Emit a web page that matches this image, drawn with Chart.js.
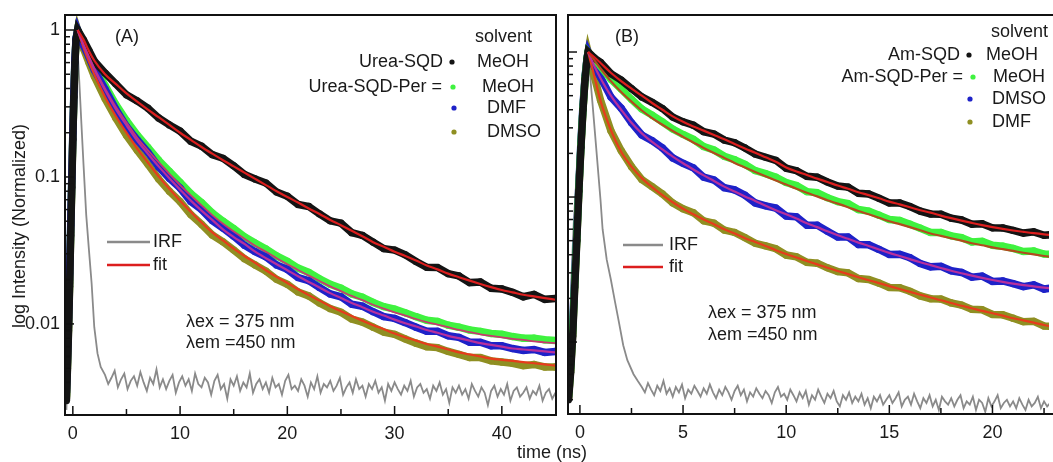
<!DOCTYPE html>
<html>
<head>
<meta charset="utf-8">
<script src="https://cdn.jsdelivr.net/npm/chart.js@4.4.1/dist/chart.umd.min.js"></script>
<style>
  html, body { margin: 0; padding: 0; background: #fff; overflow: hidden; }
  .wrap { position: relative; width: 1053px; height: 462px; }
  canvas { position: absolute; left: 0; top: 0; }
</style>
</head>
<body>
<div class="wrap">
  <canvas id="chartA" width="1053" height="462"></canvas>
  <canvas id="chartB" width="1053" height="462"></canvas>
</div>
<script>
// ---------- panel A : Urea-SQD ----------
const tRiseA = [-0.6, -0.5, -0.4, -0.3, -0.2, -0.1, 0, 0.1, 0.2, 0.3];
const tA = [0.45, 1, 1.5, 2, 3, 4, 5, 6, 7, 8, 9, 10, 11, 12, 13, 14, 15, 16, 17, 18, 19, 20,
  21, 22, 23, 24, 25, 26, 27, 28, 29, 30, 31, 32, 33, 34, 35, 36, 37, 38, 39, 40, 41, 42, 43, 44, 45];

const blackRiseA = [0.0030, 0.0050, 0.0090, 0.018, 0.040, 0.085, 0.18, 0.35, 0.60, 0.86];
const greenRiseA = [0.0032, 0.0055, 0.010, 0.020, 0.044, 0.092, 0.19, 0.37, 0.62, 0.87];
const blueRiseA  = [0.0034, 0.0058, 0.011, 0.022, 0.047, 0.098, 0.20, 0.38, 0.64, 0.88];
const oliveRiseA = [0.0031, 0.0052, 0.0095, 0.019, 0.042, 0.088, 0.185, 0.36, 0.61, 0.86];

const blackDataA = [1.0, 0.855, 0.725, 0.615, 0.51, 0.43, 0.362, 0.329, 0.294, 0.252, 0.226, 0.205,
  0.175, 0.162, 0.142, 0.134, 0.119, 0.104, 0.097, 0.091, 0.079, 0.074,
  0.065, 0.063, 0.056, 0.0503, 0.0485, 0.0418, 0.040, 0.036, 0.0325, 0.0318,
  0.0295, 0.0266, 0.0243, 0.0242, 0.022, 0.0212, 0.0191, 0.0193, 0.0175, 0.0173,
  0.0164, 0.0153, 0.0159, 0.0147, 0.0149];
const greenDataA = [1.0, 0.82, 0.69, 0.57, 0.42, 0.312, 0.242, 0.193, 0.159, 0.130, 0.109, 0.092,
  0.077, 0.067, 0.057, 0.050, 0.0445, 0.0392, 0.0355, 0.0324, 0.0290, 0.0267,
  0.0240, 0.0224, 0.0203, 0.0186, 0.0175, 0.0160, 0.0152, 0.0140, 0.0131, 0.0126,
  0.0119, 0.0112, 0.0106, 0.0104, 0.0098, 0.0095, 0.0091, 0.0089, 0.0086, 0.0085,
  0.0082, 0.0080, 0.0080, 0.0078, 0.0077];
const blueDataA = [1.0, 0.785, 0.655, 0.535, 0.396, 0.29, 0.221, 0.179, 0.147, 0.117, 0.098, 0.084,
  0.068, 0.060, 0.0505, 0.0449, 0.0395, 0.0343, 0.031, 0.0286, 0.0252, 0.0235,
  0.0207, 0.0197, 0.0177, 0.0160, 0.0153, 0.0136, 0.0132, 0.0121, 0.0112, 0.0109,
  0.0102, 0.0095, 0.0089, 0.0089, 0.0083, 0.0081, 0.0075, 0.0075, 0.0071, 0.0071,
  0.0068, 0.0066, 0.0067, 0.0064, 0.0065];
const oliveDataA = [1.0, 0.745, 0.60, 0.485, 0.342, 0.252, 0.192, 0.152, 0.122, 0.097, 0.080, 0.068,
  0.0555, 0.0476, 0.0403, 0.0362, 0.0318, 0.0278, 0.0252, 0.0229, 0.0201, 0.0186,
  0.0165, 0.0155, 0.0139, 0.0127, 0.0120, 0.0108, 0.0103, 0.0095, 0.0088, 0.0085,
  0.0079, 0.0074, 0.0070, 0.0069, 0.0065, 0.0062, 0.0059, 0.0059, 0.0056, 0.0055,
  0.0054, 0.0052, 0.0053, 0.0051, 0.0051];

const blackFitA = [1.0, 0.86, 0.72, 0.62, 0.50, 0.43, 0.37, 0.325, 0.287, 0.255, 0.226, 0.200,
  0.179, 0.160, 0.144, 0.130, 0.118, 0.107, 0.097, 0.088, 0.080, 0.073,
  0.067, 0.061, 0.056, 0.051, 0.047, 0.043, 0.0395, 0.036, 0.0335, 0.031,
  0.029, 0.027, 0.025, 0.0235, 0.022, 0.0208, 0.0197, 0.0187, 0.0178, 0.0170,
  0.0164, 0.0158, 0.0154, 0.0150, 0.0146];
const greenFitA = [1.0, 0.80, 0.66, 0.55, 0.40, 0.30, 0.235, 0.185, 0.152, 0.126, 0.105, 0.088,
  0.075, 0.064, 0.055, 0.048, 0.0425, 0.038, 0.034, 0.031, 0.028, 0.0255,
  0.0233, 0.0213, 0.0196, 0.0180, 0.0167, 0.0155, 0.0145, 0.0135, 0.0127, 0.0120,
  0.0114, 0.0108, 0.0103, 0.0099, 0.0095, 0.0091, 0.0088, 0.0085, 0.0083, 0.0081,
  0.0079, 0.0078, 0.0076, 0.0075, 0.0074];
const blueFitA = [1.0, 0.79, 0.65, 0.54, 0.39, 0.29, 0.225, 0.177, 0.144, 0.118, 0.098, 0.082,
  0.069, 0.059, 0.051, 0.044, 0.039, 0.035, 0.031, 0.028, 0.0255, 0.0232,
  0.0211, 0.0193, 0.0177, 0.0162, 0.0150, 0.0139, 0.0130, 0.0121, 0.0114, 0.0107,
  0.0101, 0.0096, 0.0091, 0.0087, 0.0083, 0.0080, 0.0077, 0.0074, 0.0072, 0.0070,
  0.0068, 0.0067, 0.0066, 0.0065, 0.0064];
const oliveFitA = [1.0, 0.76, 0.61, 0.50, 0.35, 0.26, 0.20, 0.156, 0.125, 0.101, 0.083, 0.069,
  0.058, 0.049, 0.042, 0.037, 0.0325, 0.029, 0.026, 0.0232, 0.0209, 0.0190,
  0.0172, 0.0157, 0.0144, 0.0132, 0.0122, 0.0113, 0.0105, 0.0098, 0.0092, 0.0086,
  0.0081, 0.0077, 0.0073, 0.0070, 0.0067, 0.0064, 0.0062, 0.0060, 0.0058, 0.0057,
  0.0056, 0.0055, 0.0054, 0.0053, 0.0052];

const tIrfA = [-0.6, -0.4, -0.2, 0, 0.2, 0.35, 0.6, 0.8, 1.0, 1.25, 1.5, 1.75, 2.0, 2.3, 2.6,
  3.0, 3.3, 3.6, 3.9, 4.2, 4.5, 4.8, 5.1, 5.4, 5.7,
  6.0, 6.3, 6.6, 6.9, 7.2, 7.5, 7.8, 8.1, 8.4, 8.7,
  9.0, 9.3, 9.6, 9.9, 10.2, 10.5, 10.8, 11.1, 11.4, 11.7,
  12.0, 12.3, 12.6, 12.9, 13.2, 13.5, 13.8, 14.1, 14.4, 14.7,
  15.0, 15.3, 15.6, 15.9, 16.2, 16.5, 16.8, 17.1, 17.4, 17.7,
  18.0, 18.3, 18.6, 18.9, 19.2, 19.5, 19.8, 20.1, 20.4, 20.7,
  21.0, 21.3, 21.6, 21.9, 22.2, 22.5, 22.8, 23.1, 23.4, 23.7,
  24.0, 24.3, 24.6, 24.9, 25.2, 25.5, 25.8, 26.1, 26.4, 26.7,
  27.0, 27.3, 27.6, 27.9, 28.2, 28.5, 28.8, 29.1, 29.4, 29.7,
  30.0, 30.3, 30.6, 30.9, 31.2, 31.5, 31.8, 32.1, 32.4, 32.7,
  33.0, 33.3, 33.6, 33.9, 34.2, 34.5, 34.8, 35.1, 35.4, 35.7,
  36.0, 36.3, 36.6, 36.9, 37.2, 37.5, 37.8, 38.1, 38.4, 38.7,
  39.0, 39.3, 39.6, 39.9, 40.2, 40.5, 40.8, 41.1, 41.4, 41.7,
  42.0, 42.3, 42.6, 42.9, 43.2, 43.5, 43.8, 44.1, 44.4, 44.7, 45.0];
const irfA = [0.0026, 0.008, 0.05, 0.25, 0.7, 1.0, 0.45, 0.23, 0.12, 0.055, 0.032, 0.019, 0.0095, 0.0063, 0.0051,
  0.0045, 0.0039, 0.0043, 0.0048, 0.0037, 0.0042, 0.0046, 0.0036, 0.0041, 0.0044,
  0.0038, 0.0047, 0.0040, 0.0035, 0.0043, 0.0039, 0.0049, 0.0037, 0.0042, 0.0036,
  0.0041, 0.0045, 0.0034, 0.0040, 0.0044, 0.0038, 0.0042, 0.0035, 0.0046, 0.0039,
  0.0037, 0.0043, 0.0040, 0.0033, 0.0041, 0.0045, 0.0036, 0.0039, 0.0031, 0.0042,
  0.0038, 0.0044, 0.0035, 0.0040, 0.0037, 0.0046, 0.0034, 0.0039, 0.0042, 0.0036,
  0.0040, 0.0034, 0.0043, 0.0037, 0.0039, 0.0033, 0.0041, 0.0045, 0.0036, 0.0038,
  0.0035, 0.0042, 0.0038, 0.0032, 0.0040, 0.0036, 0.0044, 0.0034, 0.0039, 0.0037,
  0.0041, 0.0035, 0.0038, 0.0043, 0.0033, 0.0037, 0.0040, 0.0034, 0.0042, 0.0036,
  0.0038, 0.0032, 0.0039, 0.0036, 0.0041, 0.0034, 0.0037, 0.0030, 0.0039, 0.0035,
  0.0040, 0.0036, 0.0033, 0.0038, 0.0035, 0.0041, 0.0032, 0.0037, 0.0039, 0.0034,
  0.0036, 0.0031, 0.0038, 0.0035, 0.0040, 0.0033, 0.0036, 0.0029, 0.0037, 0.0034,
  0.0038, 0.0033, 0.0036, 0.0031, 0.0039, 0.0035, 0.0032, 0.0037, 0.0034, 0.0028,
  0.0035, 0.0038, 0.0032, 0.0036, 0.0033, 0.0039, 0.0030, 0.0035, 0.0037, 0.0032,
  0.0034, 0.0037, 0.0031, 0.0035, 0.0033, 0.0038, 0.0030, 0.0034, 0.0036, 0.0031, 0.0034];

// ---------- panel B : Am-SQD ----------
const tRiseB = [-0.55, -0.45, -0.35, -0.25, -0.15, -0.05, 0.05, 0.15, 0.25, 0.35];
const tB = [0.4, 0.7, 1, 1.5, 2, 2.5, 3, 3.5, 4, 4.5, 5, 5.5, 6, 6.5, 7, 7.5, 8, 8.5, 9, 9.5,
  10, 10.5, 11, 11.5, 12, 12.5, 13, 13.5, 14, 14.5, 15, 15.5, 16, 16.5, 17, 17.5,
  18, 18.5, 19, 19.5, 20, 20.5, 21, 21.5, 22, 22.5, 23];

const blackRiseB = [0.0040, 0.0062, 0.011, 0.024, 0.05, 0.11, 0.22, 0.40, 0.65, 0.90];
const greenRiseB = [0.0042, 0.0066, 0.012, 0.026, 0.053, 0.115, 0.23, 0.41, 0.66, 0.91];
const blueRiseB  = [0.0045, 0.0070, 0.013, 0.028, 0.056, 0.12, 0.24, 0.43, 0.68, 0.92];
const oliveRiseB = [0.0041, 0.0064, 0.0115, 0.025, 0.051, 0.112, 0.225, 0.405, 0.655, 0.905];

const blackDataB = [1.0, 0.91, 0.85, 0.71, 0.64, 0.56, 0.49, 0.45, 0.408, 0.356,
  0.33, 0.313, 0.282, 0.272, 0.247, 0.237, 0.218, 0.198, 0.188, 0.179,
  0.158, 0.152, 0.139, 0.137, 0.127, 0.119, 0.117, 0.106, 0.105, 0.098,
  0.091, 0.091, 0.086, 0.080, 0.0765, 0.0762, 0.0715, 0.0695, 0.065, 0.0655,
  0.0613, 0.0612, 0.0588, 0.0564, 0.0575, 0.0545, 0.0552];
const greenDataB = [1.0, 0.90, 0.80, 0.65, 0.555, 0.472, 0.405, 0.367, 0.33, 0.294,
  0.27, 0.250, 0.223, 0.211, 0.191, 0.181, 0.168, 0.152, 0.145, 0.137,
  0.126, 0.120, 0.109, 0.107, 0.099, 0.093, 0.090, 0.082, 0.080, 0.075,
  0.070, 0.069, 0.065, 0.061, 0.057, 0.057, 0.054, 0.0525, 0.049, 0.0495,
  0.0465, 0.0458, 0.0442, 0.0421, 0.0425, 0.0404, 0.0402];
const blueDataB = [1.0, 0.79, 0.67, 0.49, 0.41, 0.325, 0.268, 0.245, 0.218, 0.186,
  0.171, 0.159, 0.137, 0.131, 0.116, 0.112, 0.103, 0.091, 0.087, 0.084,
  0.074, 0.073, 0.064, 0.064, 0.058, 0.053, 0.053, 0.047, 0.0468, 0.0435,
  0.0402, 0.0403, 0.0382, 0.0348, 0.0330, 0.0333, 0.0310, 0.0302, 0.0280, 0.0285,
  0.0262, 0.0264, 0.0253, 0.0241, 0.0248, 0.0232, 0.0237];
const oliveDataB = [1.0, 0.675, 0.465, 0.287, 0.209, 0.162, 0.132, 0.118, 0.105, 0.091,
  0.083, 0.078, 0.0685, 0.066, 0.0592, 0.057, 0.0525, 0.048, 0.046, 0.044,
  0.0398, 0.0387, 0.0355, 0.035, 0.0325, 0.0306, 0.030, 0.0274, 0.027, 0.0255,
  0.0238, 0.0237, 0.0224, 0.0208, 0.0199, 0.0198, 0.0186, 0.018, 0.0168, 0.0167,
  0.0155, 0.0154, 0.0146, 0.0138, 0.0139, 0.0129, 0.0128];

const blackFitB = [1.0, 0.92, 0.84, 0.72, 0.63, 0.56, 0.50, 0.445, 0.40, 0.36,
  0.33, 0.307, 0.287, 0.268, 0.25, 0.232, 0.216, 0.202, 0.188, 0.175,
  0.16, 0.15, 0.142, 0.134, 0.127, 0.12, 0.114, 0.108, 0.103, 0.098,
  0.093, 0.089, 0.085, 0.081, 0.078, 0.0745, 0.0715, 0.0688, 0.0663, 0.064,
  0.062, 0.0603, 0.0588, 0.0575, 0.0563, 0.0553, 0.0545];
const greenFitB = [1.0, 0.88, 0.77, 0.63, 0.53, 0.455, 0.395, 0.35, 0.315, 0.285,
  0.26, 0.238, 0.218, 0.201, 0.186, 0.172, 0.160, 0.149, 0.139, 0.130,
  0.122, 0.114, 0.107, 0.101, 0.095, 0.090, 0.085, 0.080, 0.076, 0.072,
  0.068, 0.065, 0.062, 0.059, 0.056, 0.054, 0.052, 0.050, 0.048, 0.0465,
  0.045, 0.0437, 0.0425, 0.0413, 0.0402, 0.0392, 0.0383];
const blueFitB = [1.0, 0.80, 0.66, 0.50, 0.40, 0.325, 0.275, 0.24, 0.213, 0.19,
  0.171, 0.155, 0.141, 0.129, 0.118, 0.109, 0.101, 0.094, 0.087, 0.081,
  0.076, 0.071, 0.066, 0.062, 0.058, 0.0545, 0.0515, 0.0485, 0.046, 0.0435,
  0.0412, 0.0392, 0.0373, 0.0355, 0.0339, 0.0324, 0.0310, 0.0298, 0.0287, 0.0277,
  0.0268, 0.0260, 0.0253, 0.0247, 0.0242, 0.0237, 0.0233];
const oliveFitB = [1.0, 0.68, 0.46, 0.29, 0.205, 0.162, 0.135, 0.117, 0.103, 0.092,
  0.083, 0.076, 0.070, 0.065, 0.060, 0.056, 0.052, 0.049, 0.046, 0.043,
  0.0405, 0.0383, 0.0362, 0.0343, 0.0325, 0.0309, 0.0294, 0.0280, 0.0267, 0.0255,
  0.0243, 0.0232, 0.0222, 0.0212, 0.0203, 0.0194, 0.0186, 0.0178, 0.0171, 0.0164,
  0.0158, 0.0152, 0.0146, 0.0141, 0.0136, 0.0131, 0.0127];

const tIrfB = [-0.58, -0.5, -0.4, -0.3, -0.1, 0.1, 0.25, 0.4, 0.6, 0.8, 1.0, 1.1, 1.3, 1.5, 1.7, 1.9, 2.1, 2.3, 2.6, 2.8,
  3.0, 3.15, 3.3, 3.45, 3.6, 3.75, 3.9, 4.05, 4.2, 4.35, 4.5, 4.65, 4.8, 4.95, 5.1, 5.25, 5.4, 5.55, 5.7, 5.85,
  6.0, 6.15, 6.3, 6.45, 6.6, 6.75, 6.9, 7.05, 7.2, 7.35, 7.5, 7.65, 7.8, 7.95, 8.1, 8.25, 8.4, 8.55, 8.7, 8.85,
  9.0, 9.15, 9.3, 9.45, 9.6, 9.75, 9.9, 10.05, 10.2, 10.35, 10.5, 10.65, 10.8, 10.95, 11.1, 11.25, 11.4, 11.55, 11.7, 11.85,
  12.0, 12.15, 12.3, 12.45, 12.6, 12.75, 12.9, 13.05, 13.2, 13.35, 13.5, 13.65, 13.8, 13.95, 14.1, 14.25, 14.4, 14.55, 14.7, 14.85,
  15.0, 15.15, 15.3, 15.45, 15.6, 15.75, 15.9, 16.05, 16.2, 16.35, 16.5, 16.65, 16.8, 16.95, 17.1, 17.25, 17.4, 17.55, 17.7, 17.85,
  18.0, 18.15, 18.3, 18.45, 18.6, 18.75, 18.9, 19.05, 19.2, 19.35, 19.5, 19.65, 19.8, 19.95, 20.1, 20.25, 20.4, 20.55, 20.7, 20.85,
  21.0, 21.15, 21.3, 21.45, 21.6, 21.75, 21.9, 22.05, 22.2, 22.35, 22.5, 22.65, 22.8];
const irfB = [0.004, 0.01, 0.03, 0.065, 0.2, 0.42, 0.7, 1.0, 0.46, 0.21, 0.095, 0.06, 0.037, 0.027, 0.019, 0.0135, 0.0095, 0.0075, 0.006, 0.0054,
  0.0049, 0.0045, 0.0052, 0.0047, 0.0043, 0.0050, 0.0046, 0.0054, 0.0044, 0.0048, 0.0042, 0.0049, 0.0045, 0.0051, 0.0041, 0.0047, 0.0044, 0.0050, 0.0046, 0.0042,
  0.0048, 0.0044, 0.0051, 0.0045, 0.0041, 0.0047, 0.0043, 0.0049, 0.0045, 0.0040, 0.0046, 0.0050, 0.0043, 0.0047, 0.0039, 0.0045, 0.0042, 0.0048, 0.0044, 0.0041,
  0.0046, 0.0043, 0.0038, 0.0045, 0.0049, 0.0042, 0.0044, 0.0040, 0.0047, 0.0043, 0.0039, 0.0045, 0.0041, 0.0046, 0.0037, 0.0043, 0.0040, 0.0047, 0.0042, 0.0038,
  0.0044, 0.0041, 0.0046, 0.0039, 0.0036, 0.0043, 0.0040, 0.0045, 0.0038, 0.0042, 0.0039, 0.0044, 0.0037, 0.0041, 0.0035, 0.0042, 0.0039, 0.0043, 0.0037, 0.0040,
  0.0043, 0.0038, 0.0041, 0.0045, 0.0036, 0.0040, 0.0042, 0.0037, 0.0044, 0.0039, 0.0035, 0.0041, 0.0038, 0.0043, 0.0036, 0.0040, 0.0034, 0.0042, 0.0039, 0.0037,
  0.0041, 0.0036, 0.0040, 0.0043, 0.0035, 0.0039, 0.0037, 0.0042, 0.0034, 0.0040, 0.0038, 0.0033, 0.0041, 0.0036, 0.0039, 0.0043, 0.0035, 0.0038, 0.0040, 0.0036,
  0.0039, 0.0035, 0.0041, 0.0037, 0.0034, 0.0040, 0.0036, 0.0038, 0.0042, 0.0035, 0.0039, 0.0036, 0.0038];

// axis ticks
const xLabelsA = [0, 10, 20, 30, 40];
const xMinorA = [5, 15, 25, 35];
const xLabelsB = [0, 5, 10, 15, 20];
const xMinorB = [2.5, 7.5, 12.5, 17.5, 22.5];
const yLabels = [0.01, 0.1, 1];

// colours
const cBlack = '#141414', cGreen = '#3ff23f', cBlue = '#1e22c8', cOlive = '#8f8f22', cIrf = '#8a8a8a';
const fitRed = '#dc1e1e', fitBrown = '#b24a1e', fitMagenta = '#b8309c', fitOrange = '#e63c1c';
const FONT = '"Liberation Sans", Arial, sans-serif';

Chart.defaults.font.family = FONT;
Chart.defaults.font.size = 18;
Chart.defaults.color = '#1a1a1a';

function pts(xs, ys) { return xs.map((x, i) => ({ x: x, y: ys[i] })); }

// measured points: a thick dotted band
function band(xs, ys, color, order) {
  return { data: pts(xs, ys), showLine: true, borderColor: color, backgroundColor: color,
    borderWidth: 7.5, pointRadius: 3.6, pointBorderWidth: 0, tension: 0, order: order };
}
function curve(xs, ys, color, width, order, smooth) {
  const d = { data: pts(xs, ys), showLine: true, borderColor: color, backgroundColor: color,
    borderWidth: width, pointRadius: 0, tension: 0, order: order };
  if (smooth) d.cubicInterpolationMode = 'monotone';
  return d;
}

// frame, inward ticks, legend and labels
const decor = {
  id: 'decor',
  afterDraw(chart, args, o) {
    const ctx = chart.ctx, a = chart.chartArea;
    const xs = chart.scales.x, ys = chart.scales.y;
    ctx.save();
    ctx.strokeStyle = '#111';
    ctx.lineWidth = 1.5;
    const tickX = (v, len) => {
      const p = xs.getPixelForValue(v);
      ctx.beginPath(); ctx.moveTo(p, a.bottom); ctx.lineTo(p, a.bottom - len); ctx.stroke();
    };
    o.xMajor.forEach(v => tickX(v, 9));
    o.xMinor.forEach(v => tickX(v, 6));
    [0.001, 0.01, 0.1, 1].forEach(d => {
      for (let k = 1; k <= 9; k++) {
        const v = k * d;
        if (v < ys.min || v > ys.max) continue;
        const p = ys.getPixelForValue(v);
        ctx.beginPath(); ctx.moveTo(a.left, p); ctx.lineTo(a.left + (k === 1 ? 9 : 5), p); ctx.stroke();
      }
    });

    ctx.lineWidth = 2;
    ctx.beginPath();
    if (o.open) {
      ctx.moveTo(a.right + 10, a.top); ctx.lineTo(a.left, a.top);
      ctx.lineTo(a.left, a.bottom); ctx.lineTo(a.right + 10, a.bottom);
    } else {
      ctx.rect(a.left, a.top, a.right - a.left, a.bottom - a.top);
    }
    ctx.stroke();

    o.keys.forEach(k => {
      ctx.strokeStyle = k.c; ctx.lineWidth = 2.5;
      ctx.beginPath(); ctx.moveTo(k.x1, k.y); ctx.lineTo(k.x2, k.y); ctx.stroke();
    });
    o.dots.forEach(d => {
      ctx.fillStyle = d.c;
      ctx.beginPath(); ctx.arc(d.x, d.y, 2.6, 0, Math.PI * 2); ctx.fill();
    });
    ctx.fillStyle = '#1a1a1a';
    ctx.font = '18px ' + FONT;
    ctx.textBaseline = 'middle';
    o.texts.forEach(t => {
      ctx.textAlign = t.align || 'left';
      ctx.fillText(t.t, t.x, t.y);
    });
    if (o.yTitle) {
      ctx.save();
      ctx.translate(o.yTitle.x, o.yTitle.y);
      ctx.rotate(-Math.PI / 2);
      ctx.textAlign = 'center';
      ctx.fillText(o.yTitle.t, 0, 0);
      ctx.restore();
    }
    ctx.restore();
  }
};

function scalesFor(xmin, xmax, xLabels, ymin, ymax, yWidth, xHeight, showY) {
  return {
    x: {
      type: 'linear', min: xmin, max: xmax,
      grid: { display: false, drawTicks: false }, border: { display: false },
      afterBuildTicks: s => { s.ticks = xLabels.map(v => ({ value: v })); },
      afterFit: s => { s.height = xHeight; s.paddingLeft = 0; s.paddingRight = 0; },
      ticks: { padding: 8, maxRotation: 0, autoSkip: false, callback: v => String(v) }
    },
    y: {
      type: 'logarithmic', min: ymin, max: ymax,
      grid: { display: false, drawTicks: false }, border: { display: false },
      afterBuildTicks: s => { s.ticks = yLabels.map(v => ({ value: v })); },
      afterFit: s => { s.width = yWidth; s.paddingTop = 0; s.paddingBottom = 0; },
      ticks: { display: showY, padding: 5, callback: v => String(v) }
    }
  };
}

new Chart(document.getElementById('chartA'), {
  type: 'scatter',
  data: {
    datasets: [
      curve(tA, blackFitA, fitRed, 2.2, 1, true),
      curve(tA, blueFitA, fitMagenta, 2.2, 2, true),
      curve(tA, greenFitA, '#c8386e', 1.8, 3, true),
      curve(tA, oliveFitA, fitOrange, 2.2, 4, true),
      band(tRiseA.concat(tA), blackRiseA.concat(blackDataA), cBlack, 10),
      band(tRiseA.concat(tA), blueRiseA.concat(blueDataA), cBlue, 11),
      band(tRiseA.concat(tA), oliveRiseA.concat(oliveDataA), cOlive, 12),
      band(tRiseA.concat(tA), greenRiseA.concat(greenDataA), cGreen, 13),
      curve(tIrfA, irfA, cIrf, 1.8, 20, false)
    ]
  },
  options: {
    responsive: false, animation: false, events: [],
    layout: { padding: { left: 0, top: 15, right: 497, bottom: 0 } },
    scales: scalesFor(-0.73, 45.05, xLabelsA, 0.0024, 1.265, 65, 47, true),
    plugins: {
      legend: { display: false }, tooltip: { enabled: false },
      decor: {
        xMajor: xLabelsA, xMinor: xMinorA, open: false,
        keys: [{ x1: 107, x2: 150, y: 242, c: cIrf }, { x1: 107, x2: 150, y: 265, c: fitRed }],
        dots: [{ x: 452, y: 62, c: cBlack }, { x: 453, y: 87, c: cGreen },
               { x: 454, y: 108, c: cBlue }, { x: 454, y: 132, c: cOlive }],
        texts: [
          { t: '(A)', x: 115, y: 37 },
          { t: 'solvent', x: 475, y: 37 },
          { t: 'Urea-SQD', x: 443, y: 62, align: 'right' },
          { t: 'MeOH', x: 477, y: 62 },
          { t: 'Urea-SQD-Per =', x: 442, y: 87, align: 'right' },
          { t: 'MeOH', x: 482, y: 87 },
          { t: 'DMF', x: 487, y: 108 },
          { t: 'DMSO', x: 487, y: 132 },
          { t: 'IRF', x: 153, y: 242 },
          { t: 'fit', x: 153, y: 265 },
          { t: 'λex = 375 nm', x: 186, y: 322 },
          { t: 'λem =450 nm', x: 186, y: 343 },
          { t: 'time (ns)', x: 552, y: 453, align: 'center' }
        ],
        yTitle: { t: 'log Intensity (Normalized)', x: 20, y: 226 }
      }
    }
  },
  plugins: [decor]
});

new Chart(document.getElementById('chartB'), {
  type: 'scatter',
  data: {
    datasets: [
      curve(tB, blackFitB, fitRed, 2.2, 1, true),
      curve(tB, greenFitB, fitBrown, 2.2, 2, true),
      curve(tB, blueFitB, fitMagenta, 2.2, 3, true),
      curve(tB, oliveFitB, fitOrange, 2.2, 4, true),
      band(tRiseB.concat(tB), blackRiseB.concat(blackDataB), cBlack, 10),
      band(tRiseB.concat(tB), greenRiseB.concat(greenDataB), cGreen, 11),
      band(tRiseB.concat(tB), blueRiseB.concat(blueDataB), cBlue, 12),
      band(tRiseB.concat(tB), oliveRiseB.concat(oliveDataB), cOlive, 13),
      curve(tIrfB, irfB, cIrf, 1.8, 20, false)
    ]
  },
  options: {
    responsive: false, animation: false, events: [],
    layout: { padding: { left: 560, top: 15, right: 0, bottom: 0 } },
    scales: scalesFor(-0.577, 22.74, xLabelsB, 0.00319, 1.8, 8, 48, false),
    plugins: {
      legend: { display: false }, tooltip: { enabled: false },
      decor: {
        xMajor: xLabelsB, xMinor: xMinorB, open: true,
        keys: [{ x1: 623, x2: 663, y: 245, c: cIrf }, { x1: 623, x2: 663, y: 267, c: fitRed }],
        dots: [{ x: 969, y: 55, c: cBlack }, { x: 973, y: 77, c: cGreen },
               { x: 970, y: 99, c: cBlue }, { x: 970, y: 122, c: cOlive }],
        texts: [
          { t: '(B)', x: 615, y: 37 },
          { t: 'solvent', x: 991, y: 32 },
          { t: 'Am-SQD', x: 960, y: 55, align: 'right' },
          { t: 'MeOH', x: 986, y: 55 },
          { t: 'Am-SQD-Per =', x: 963, y: 77, align: 'right' },
          { t: 'MeOH', x: 993, y: 77 },
          { t: 'DMSO', x: 992, y: 99 },
          { t: 'DMF', x: 992, y: 122 },
          { t: 'IRF', x: 669, y: 245 },
          { t: 'fit', x: 669, y: 267 },
          { t: 'λex = 375 nm', x: 708, y: 313 },
          { t: 'λem =450 nm', x: 708, y: 335 }
        ]
      }
    }
  },
  plugins: [decor]
});
</script>
</body>
</html>
